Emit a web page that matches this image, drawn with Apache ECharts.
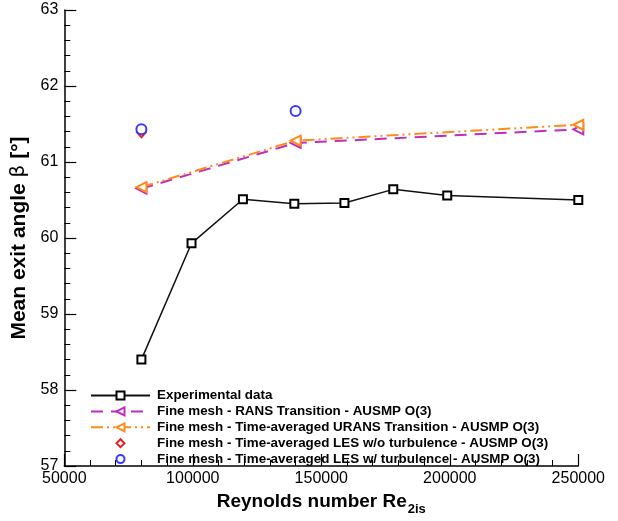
<!DOCTYPE html>
<html>
<head>
<meta charset="utf-8">
<script src="https://cdn.jsdelivr.net/npm/echarts@6/dist/echarts.min.js"></script>
<style>
  html, body { margin: 0; padding: 0; background: #fff; }
  #chart { width: 618px; height: 521px; }
</style>
</head>
<body>
<div id="chart"></div>
<script>
// Reynolds numbers and mean exit angles (degrees)
const expRe = [80000, 99500, 119500, 139500, 159000, 178000, 199000, 250000];
const expBeta = [58.40, 59.93, 60.51, 60.45, 60.46, 60.64, 60.56, 60.50];

const ransRe = [80000, 140000, 250000];
const ransBeta = [60.65, 61.25, 61.43];

const uransRe = [80000, 140000, 250000];
const uransBeta = [60.67, 61.28, 61.49];

const lesNoTurbRe = [80000];
const lesNoTurbBeta = [61.39];

const lesTurbRe = [80000, 140000];
const lesTurbBeta = [61.43, 61.67];

const yTicks = [57, 58, 59, 60, 61, 62, 63];
const xTicks = [50000, 100000, 150000, 200000, 250000];

const seriesNames = [
  'Experimental data',
  'Fine mesh - RANS Transition - AUSMP O(3)',
  'Fine mesh - Time-averaged URANS Transition - AUSMP O(3)',
  'Fine mesh - Time-averaged LES w/o turbulence - AUSMP O(3)',
  'Fine mesh - Time-averaged LES w/ turbulence - AUSMP O(3)'
];

const pairs = (xs, ys) => xs.map((x, i) => [x, ys[i]]);

const FONT = 'Liberation Sans, Arial, Helvetica, sans-serif';

const chart = echarts.init(document.getElementById('chart'), null, { renderer: 'canvas' });

const axisLine = { show: true, lineStyle: { color: '#000', width: 1.5 } };
const hiddenLine = { width: 0, opacity: 0 };

chart.setOption({
  animation: false,
  backgroundColor: '#fff',
  textStyle: { fontFamily: FONT },
  grid: { left: 64.3, right: 39.7, top: 10, bottom: 49, containLabel: false },
  legend: {
    orient: 'vertical',
    left: 85,
    top: 384,
    itemWidth: 59,
    itemHeight: 10,
    itemGap: 2.9,
    textStyle: { fontFamily: FONT, fontSize: 13.4, fontWeight: 'bold', color: '#000', padding: [0, 0, 0, 2] },
    data: [
      { name: seriesNames[0] },
      { name: seriesNames[1] },
      { name: seriesNames[2] },
      { name: seriesNames[3], lineStyle: { opacity: 0 } },
      { name: seriesNames[4], lineStyle: { opacity: 0 } }
    ]
  },
  xAxis: {
    type: 'value',
    min: xTicks[0],
    max: xTicks[xTicks.length - 1],
    interval: 50000,
    axisLine: axisLine,
    axisTick: { show: true, inside: true, length: 12, lineStyle: { color: '#000', width: 1.2 } },
    minorTick: { show: true, splitNumber: 5, length: 6, lineStyle: { color: '#000', width: 1 } },
    splitLine: { show: false },
    axisLabel: { color: '#000', fontSize: 16, fontFamily: FONT, margin: 5, formatter: v => String(v) },
    name: '{b|Reynolds number Re}{s|2is}',
    nameLocation: 'middle',
    nameGap: 26,
    nameTextStyle: {
      rich: {
        b: { fontFamily: FONT, fontSize: 19, fontWeight: 'bold', color: '#000', verticalAlign: 'bottom' },
        s: { fontFamily: FONT, fontSize: 13, fontWeight: 'bold', color: '#000', verticalAlign: 'bottom', padding: [0, 0, -5, 1] }
      }
    }
  },
  yAxis: {
    type: 'value',
    min: yTicks[0],
    max: yTicks[yTicks.length - 1],
    interval: 1,
    axisLine: axisLine,
    axisTick: { show: true, inside: true, length: 12, lineStyle: { color: '#000', width: 1.2 } },
    minorTick: { show: true, splitNumber: 5, length: 6, lineStyle: { color: '#000', width: 1 } },
    splitLine: { show: false },
    axisLabel: { color: '#000', fontSize: 16, fontFamily: FONT, margin: 6 },
    name: '{b|Mean exit angle }{g|β}{b| [°]}',
    nameLocation: 'middle',
    nameGap: 30,
    nameTextStyle: {
      rich: {
        b: { fontFamily: FONT, fontSize: 21, fontWeight: 'bold', color: '#000' },
        g: { fontFamily: 'DejaVu Sans, ' + FONT, fontSize: 20, fontWeight: 'normal', color: '#000' }
      }
    }
  },
  series: [
    {
      name: seriesNames[0],
      type: 'line',
      data: pairs(expRe, expBeta),
      symbol: 'emptyRect',
      symbolSize: 8,
      color: '#000',
      lineStyle: { color: '#111', width: 1.5 },
      itemStyle: { color: '#000', borderWidth: 1.5 },
      z: 3
    },
    {
      name: seriesNames[1],
      type: 'line',
      data: pairs(ransRe, ransBeta),
      symbol: 'emptyTriangle',
      symbolRotate: 90,
      symbolSize: 10,
      color: '#c02cc0',
      lineStyle: { color: '#c02cc0', width: 2, type: [12, 8] },
      itemStyle: { color: '#c02cc0', borderWidth: 1.5 },
      z: 4
    },
    {
      name: seriesNames[2],
      type: 'line',
      data: pairs(uransRe, uransBeta),
      symbol: 'emptyTriangle',
      symbolRotate: 90,
      symbolSize: 10,
      color: '#ff8c1a',
      lineStyle: { color: '#ff8c1a', width: 2, type: [12, 4, 2, 4, 2, 4] },
      itemStyle: { color: '#ff8c1a', borderWidth: 1.5 },
      z: 5
    },
    {
      // single LES point without turbulence, markers only
      name: seriesNames[3],
      type: 'line',
      data: pairs(lesNoTurbRe, lesNoTurbBeta),
      symbol: 'emptyDiamond',
      symbolSize: [9, 10],
      color: '#e82020',
      lineStyle: hiddenLine,
      itemStyle: { color: '#e82020', borderWidth: 1.2 },
      z: 6
    },
    {
      // LES with turbulence, markers only
      name: seriesNames[4],
      type: 'line',
      data: pairs(lesTurbRe, lesTurbBeta),
      symbol: 'emptyCircle',
      symbolSize: 10,
      color: '#3a3aff',
      lineStyle: hiddenLine,
      itemStyle: { color: '#3a3aff', borderWidth: 1.3 },
      z: 6
    }
  ]
});
</script>
</body>
</html>
